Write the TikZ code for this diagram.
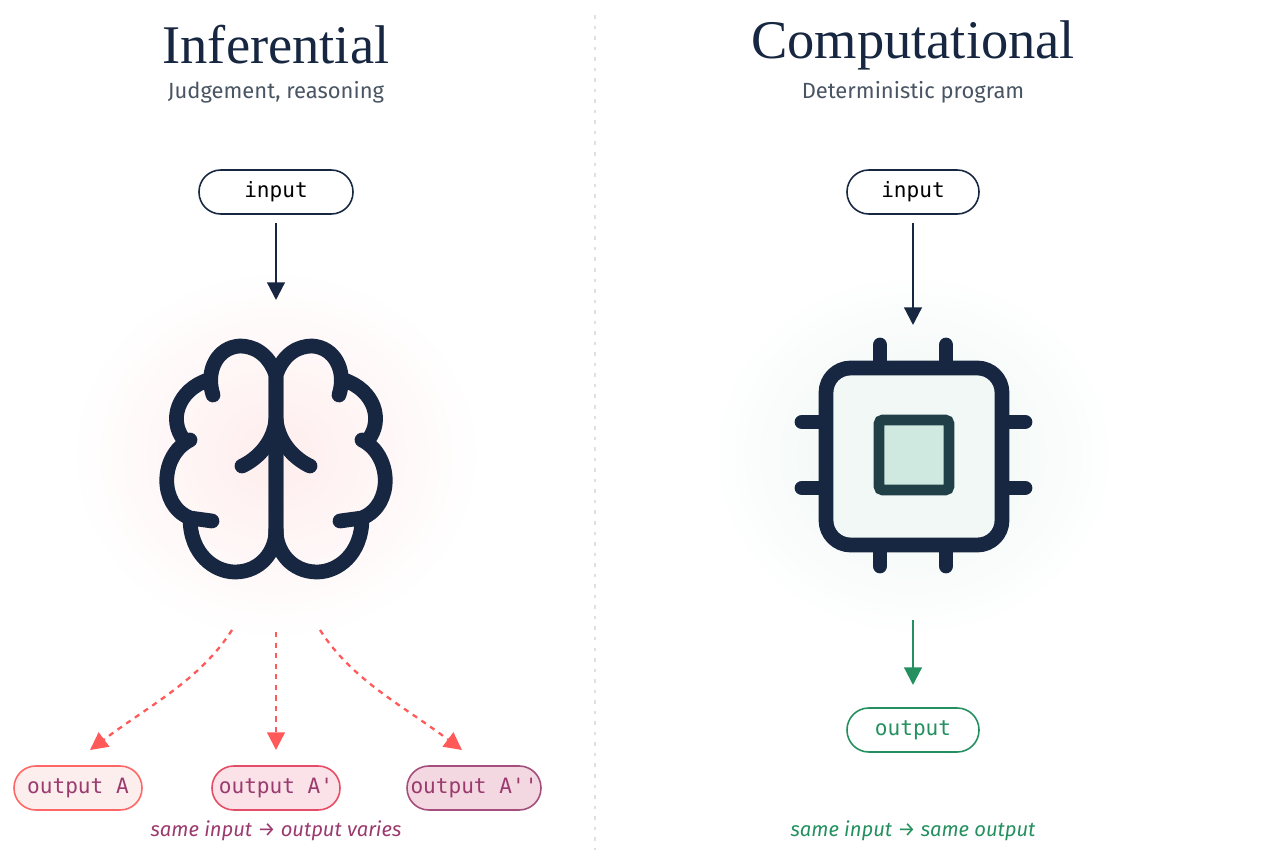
\documentclass[tikz,border=0pt]{standalone}
\usepackage{fontspec}
\setmainfont{Liberation Serif}
\setsansfont{Fira Sans}
\setmonofont{DejaVu Sans Mono}
\usetikzlibrary{arrows.meta,positioning}
\definecolor{navy}{HTML}{172741}
\definecolor{subgray}{HTML}{4A5563}
\definecolor{teal}{HTML}{24905F}
\definecolor{chipin}{HTML}{CFE9E0}
\definecolor{chipedge}{HTML}{213F47}
\definecolor{plum}{HTML}{9B3A6E}
\definecolor{pinkA}{HTML}{FDEEEE}
\definecolor{pinkB}{HTML}{FBE2E8}
\definecolor{pinkC}{HTML}{F3D7E1}
\tikzstyle{pill}=[rounded corners=12.4pt,draw=navy,line width=0.9pt,minimum height=0.88cm,inner xsep=2pt,font=\ttfamily\fontsize{12}{14}\selectfont]
\tikzstyle{title}=[font=\fontsize{31}{34}\selectfont,text=navy]
\tikzstyle{sub}=[font=\sffamily\fontsize{12.5}{15}\selectfont,text=subgray]
\tikzstyle{stroke}=[navy,line width=8.4pt,line cap=round,line join=round]
\tikzstyle{flow}=[line width=1.3pt,-{Triangle[length=10pt,width=10pt]}]
\tikzstyle{vary}=[flow,dashed,color=red!65!white]

\begin{document}
\begin{tikzpicture}[x=0.02cm,y=-0.02cm]
	\useasboundingbox (0,0) rectangle (1275,861);
	\fill[white] (0,0) rectangle (1275,861);

	% Trennlinie
	\draw[black!12,dash pattern=on 2pt off 4pt,line width=0.8pt] (595,15) -- (595,850);

	% Hintergrund
	\shade[inner color=red!7,outer color=white] (276,455) ellipse (205 and 185);
	\shade[inner color=teal!9,outer color=white] (913,455) ellipse (205 and 185);

	% Titel
	\node(titleL) at (276,45) [title] {Inferential};
	\node(subL) at (276,92) [sub] {Judgement, reasoning};
	\node(titleR) at (913,45) [title] {Computational};
	\node(subR) at (913,92) [sub] {Deterministic program};

	% Gehirn
	\foreach \s in {1,-1}
	{
		\begin{scope}[shift={(276,0)},xscale=\s,shift={(-276,0)}]
			\draw[stroke] (276,540) -- (276,375) .. controls (268,352) and (252,346) .. (240,346)
				.. controls (218,347) and (205,370) .. (213,395);
			\draw[stroke] (208,380) .. controls (178,390) and (168,420) .. (184,440);
			\draw[stroke] (190,440) .. controls (160,455) and (158,505) .. (190,518) -- (212,521);
			\draw[stroke] (190,518) .. controls (190,555) and (215,572) .. (235,572)
				.. controls (260,572) and (276,552) .. (276,530);
			\draw[stroke] (276,420) .. controls (273,445) and (255,460) .. (242,466);
		\end{scope}
	}
	\coordinate(brainTop) at (276,300);

	% Chip
	\foreach \x in {880,946}
	{
		\draw[stroke] (\x,345) -- (\x,368);
		\draw[stroke] (\x,545) -- (\x,566);
	}
	\foreach \y in {422,488}
	{
		\draw[stroke] (802,\y) -- (826,\y);
		\draw[stroke] (1002,\y) -- (1025,\y);
	}
	\draw[stroke,fill=teal!6,rounded corners=14pt] (826,368) rectangle (1002,545);
	\draw[chipedge,line width=6pt,fill=chipin,rounded corners=2pt] (879,420) rectangle (949,490);
	\coordinate(chipTop) at (913,325);

	% Eingaben
	\node(inL) at (276,192) [pill,minimum width=154*0.02cm] {input};
	\node(inR) at (913,192) [pill,minimum width=132*0.02cm] {input};
	\coordinate(inLs) at (276,223);
	\coordinate(inRs) at (913,223);
	\draw[flow,navy] (inLs) -- (brainTop);
	\draw[flow,navy] (inRs) -- (chipTop);

	% Ausgaben links
	\node(outA) at (78,788) [pill,draw=red!60!white,fill=pinkA,text=plum,minimum width=128*0.02cm] {output A};
	\node(outB) at (276,788) [pill,draw=purple!55!red!70,fill=pinkB,text=plum,minimum width=128*0.02cm] {output A'};
	\node(outC) at (474,788) [pill,draw=plum!90,fill=pinkC,text=plum,minimum width=128*0.02cm] {output A''};
	\coordinate(b1) at (232,630);
	\coordinate(b2) at (276,632);
	\coordinate(b3) at (320,630);
	\coordinate(e1) at (90,750);
	\coordinate(e2) at (276,750);
	\coordinate(e3) at (462,750);
	\draw[vary] (b1) .. controls (200,680) and (150,705) .. (e1);
	\draw[vary] (b2) -- (e2);
	\draw[vary] (b3) .. controls (352,680) and (402,705) .. (e3);
	\node(capL) at (276,831) [font=\sffamily\itshape\fontsize{11.5}{14}\selectfont,text=plum] {same input → output varies};

	% Ausgabe rechts
	\coordinate(chipBot) at (913,620);
	\coordinate(outRn) at (913,685);
	\node(outR) at (913,730) [pill,draw=teal,text=teal,minimum width=132*0.02cm] {output};
	\draw[flow,teal] (chipBot) -- (outRn);
	\node(capR) at (913,831) [font=\sffamily\itshape\fontsize{11.5}{14}\selectfont,text=teal] {same input → same output};
\end{tikzpicture}
\end{document}
